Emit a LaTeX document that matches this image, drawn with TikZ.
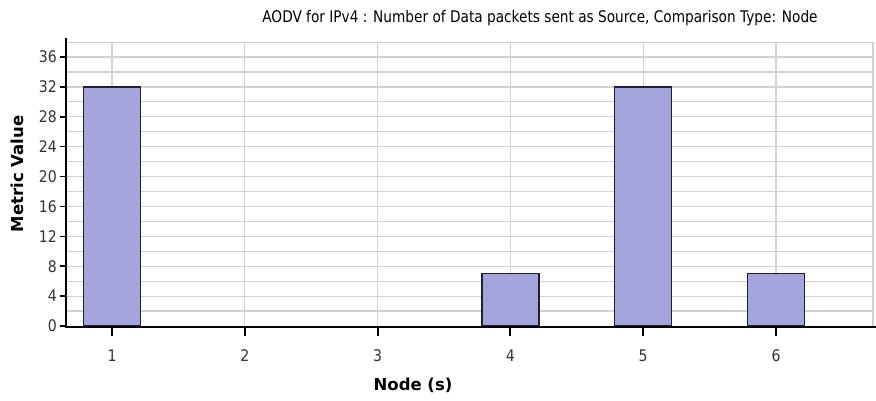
\documentclass[tikz,border=0pt]{standalone}
\usepackage{fontspec}
\setmainfont{DejaVu Sans}
\definecolor{barfill}{HTML}{A4A4DC}
\definecolor{barline}{HTML}{1E1E3C}
\definecolor{gridgray}{HTML}{D2D2D2}
\newcommand{\narrow}[2]{\scalebox{#1}[1]{#2}}
\begin{document}
\begin{tikzpicture}[x=1pt,y=-1pt,
    grid/.style={gridgray,line width=1.2pt},
    axis/.style={black,line width=2pt},
    bar/.style={fill=barfill,draw=barline,line width=1.2pt},
    ticklabel/.style={font=\fontsize{16}{16}\selectfont,text=black!80,inner sep=0pt},
    axistitle/.style={font=\fontsize{16.5}{16.5}\selectfont\bfseries,inner sep=0pt}]
  \useasboundingbox (0,0) rectangle (876,401);
  % horizontal grid every 2 units, vertical grid at each category
  \foreach \v in {2,4,...,38}
    \draw[grid] (66,{326-7.47*\v}) -- (873,{326-7.47*\v});
  \foreach \i in {0,...,5}
    \draw[grid] ({112+132.8*\i},42) -- ({112+132.8*\i},326);
  \draw[grid] (873,42) -- (873,326);
  % bars
  \foreach \i/\h in {0/32,3/7,4/32,5/7}
    \filldraw[bar] ({112+132.8*\i-28.5},326) rectangle ({112+132.8*\i+28.5},{326-7.47*\h});
  % axes
  \draw[axis] (66,38) -- (66,327);
  \draw[axis] (65,326.5) -- (876,326.5);
  % y ticks and labels
  \foreach \v in {0,4,...,36} {
    \draw[axis,line width=1.5pt] (60,{326-7.47*\v}) -- (66,{326-7.47*\v});
    \node[ticklabel,anchor=east] (y\v) at (57,{326-7.47*\v}) {\narrow{0.88}{\v}};
  }
  % x ticks and labels
  \foreach \i in {1,...,6} {
    \draw[axis] ({112+132.8*(\i-1)},326) -- ({112+132.8*(\i-1)},336);
    \node[ticklabel] (x\i) at ({112+132.8*(\i-1)},356) {\narrow{0.88}{\i}};
  }
  % titles
  \node[font=\fontsize{16}{16}\selectfont,inner sep=0pt] (title) at (540,18)
    {\narrow{0.855}{AODV for IPv4 :  Number of Data packets sent as Source, Comparison Type: Node}};
  \node[axistitle,rotate=90] (ylab) at (17,174) {Metric Value};
  \node[axistitle] (xlab) at (413,385) {Node (s)};
\end{tikzpicture}
\end{document}
